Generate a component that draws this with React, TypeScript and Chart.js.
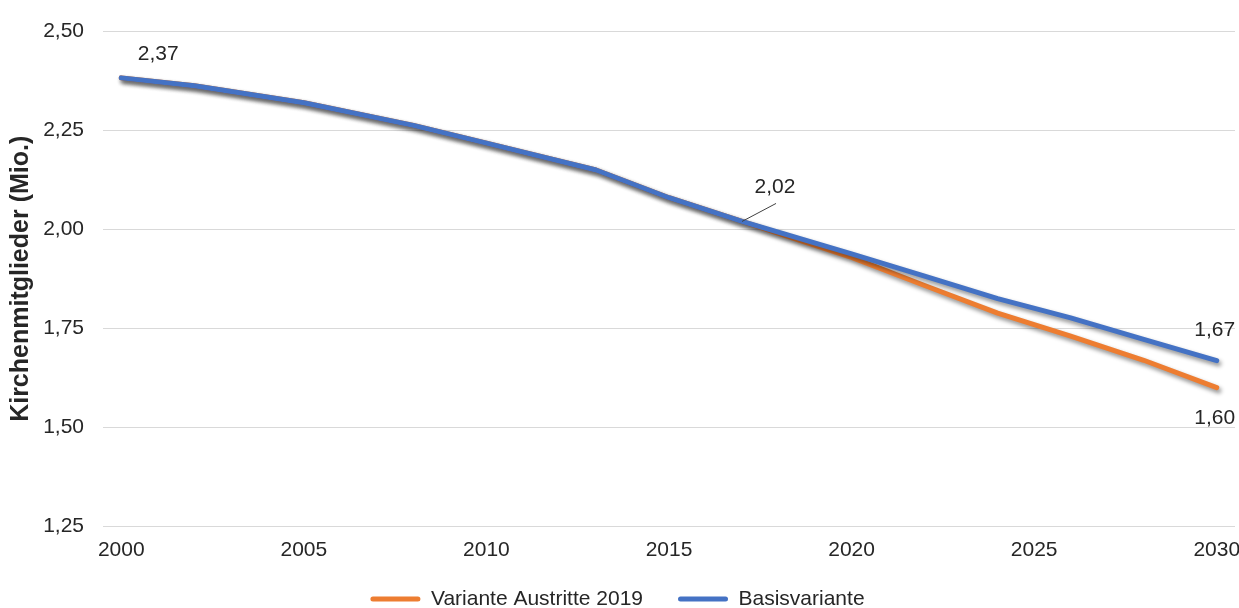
import React, { useEffect, useRef } from "react";
import { Chart, registerables } from "chart.js";

Chart.register(...registerables);

const categories = [
  "2000", "2001", "2002", "2003", "2004", "2005", "2006", "2007", "2008", "2009",
  "2010", "2011", "2012", "2013", "2014", "2015", "2016", "2017", "2018", "2019",
  "2020", "2021", "2022", "2023", "2024", "2025", "2026", "2027", "2028", "2029", "2030",
];

const basisYears = ["2000", "2002", "2005", "2008", "2010", "2013", "2015", "2017", "2020", "2022", "2024", "2026", "2028", "2030"];
const basisValues = [2.383, 2.363, 2.32, 2.263, 2.218, 2.15, 2.08, 2.02, 1.938, 1.882, 1.825, 1.776, 1.722, 1.668];

const austritteYears = ["2000", "2002", "2005", "2008", "2010", "2013", "2015", "2017", "2020", "2022", "2024", "2026", "2028", "2030"];
const austritteValues = [2.383, 2.363, 2.32, 2.263, 2.218, 2.15, 2.08, 2.02, 1.929, 1.858, 1.788, 1.73, 1.669, 1.6];

const seriesNames = ["Variante Austritte 2019", "Basisvariante"];
const seriesColors = ["#ED7D31", "#4472C4"];

const yTicks = [1.25, 1.5, 1.75, 2.0, 2.25, 2.5];
const yTitle = "Kirchenmitglieder (Mio.)";

// annotations: dataset index, category, text
const noteSeries = [1, 1, 1, 0];
const noteYears = ["2000", "2017", "2030", "2030"];
const noteTexts = ["2,37", "2,02", "1,67", "1,60"];

const FONT = "'Liberation Sans', Arial, sans-serif";
const TEXT = "#262626";

const fmt = (v: number) => v.toFixed(2).replace(".", ",");

export default function App() {
  const ref = useRef<HTMLCanvasElement | null>(null);

  useEffect(() => {
    if (!ref.current) return;
    Chart.defaults.font.family = FONT;

    const shadowPlugin = {
      id: "lineShadow",
      beforeDatasetDraw(chart: any) {
        const ctx = chart.ctx;
        ctx.save();
        ctx.shadowColor = "rgba(0,0,0,0.45)";
        ctx.shadowBlur = 4;
        ctx.shadowOffsetX = 2;
        ctx.shadowOffsetY = 3;
      },
      afterDatasetDraw(chart: any) {
        chart.ctx.restore();
      },
    };

    const legendFit = {
      id: "legendFit",
      beforeInit(chart: any) {
        const lg = chart.legend;
        if (lg) {
          const origFit = lg.fit;
          lg.fit = function () {
            origFit.call(this);
            this.height = 42;
          };
          const origDraw = lg.draw;
          lg.draw = function () {
            const t = this.top;
            this.top = t - 12.5;
            origDraw.call(this);
            this.top = t;
          };
        }
      },
    };

    const offsets = [
      [37, -24],
      [33, -34],
      [-2, -30],
      [-2, 31],
    ];

    const notesPlugin = {
      id: "notes",
      afterDatasetsDraw(chart: any) {
        const ctx = chart.ctx;
        ctx.save();
        ctx.font = `21px ${FONT}`;
        ctx.fillStyle = TEXT;
        ctx.textAlign = "center";
        ctx.textBaseline = "middle";
        noteSeries.forEach((si, i) => {
          const meta = chart.getDatasetMeta(si);
          const ds = chart.data.datasets[si];
          const idx = ds.data.findIndex((d: any) => d.x === noteYears[i]);
          const el = meta.data[idx];
          if (!el) return;
          const px = el.x;
          const py = el.y;
          const tx = px + offsets[i][0];
          const ty = py + offsets[i][1];
          if (noteYears[i] === "2017") {
            ctx.strokeStyle = "#404040";
            ctx.lineWidth = 1;
            ctx.beginPath();
            ctx.moveTo(px, py);
            ctx.lineTo(px + 34, py - 18);
            ctx.stroke();
          }
          ctx.fillText(noteTexts[i], tx, ty);
        });
        ctx.restore();
      },
    };

    const chart = new Chart(ref.current, {
      type: "line",
      data: {
        labels: categories,
        datasets: [
          {
            label: seriesNames[0],
            data: austritteYears.map((y, i) => ({ x: y, y: austritteValues[i] })),
            borderColor: seriesColors[0],
            backgroundColor: seriesColors[0],
            borderWidth: 5,
            borderCapStyle: "round",
            borderJoinStyle: "round",
            pointRadius: 0,
            tension: 0,
            order: 1,
          },
          {
            label: seriesNames[1],
            data: basisYears.map((y, i) => ({ x: y, y: basisValues[i] })),
            borderColor: seriesColors[1],
            backgroundColor: seriesColors[1],
            borderWidth: 5,
            borderCapStyle: "round",
            borderJoinStyle: "round",
            pointRadius: 0,
            tension: 0,
            order: 0,
          },
        ],
      },
      options: {
        animation: false,
        responsive: true,
        maintainAspectRatio: false,
        layout: { padding: { top: 25, right: 4, left: 0, bottom: 0 } },
        scales: {
          x: {
            type: "category",
            offset: true,
            grid: { display: false, drawTicks: false },
            border: { display: false },
            ticks: {
              autoSkip: false,
              maxRotation: 0,
              padding: 12,
              color: TEXT,
              font: { size: 21 },
              callback: (_v: any, i: number) => (Number(categories[i]) % 5 === 0 ? categories[i] : ""),
            },
            afterFit: (s: any) => {
              s.height = 40;
              s.paddingLeft = 0;
              s.paddingRight = 0;
            },
          },
          y: {
            min: yTicks[0],
            max: yTicks[yTicks.length - 1],
            afterBuildTicks: (s: any) => {
              s.ticks = yTicks.map((v) => ({ value: v }));
            },
            grid: { color: "#d9d9d9", lineWidth: 1, drawTicks: false },
            border: { display: false },
            ticks: {
              padding: 19,
              color: TEXT,
              font: { size: 21 },
              callback: (v: any) => fmt(Number(v)),
            },
            title: {
              display: true,
              text: yTitle,
              color: TEXT,
              font: { size: 25, weight: "bold" },
              padding: { top: 6, bottom: 0 },
            },
            afterFit: (s: any) => {
              s.width = 103;
            },
          },
        },
        plugins: {
          legend: {
            position: "bottom",
            labels: {
              boxWidth: 50,
              boxHeight: 5,
              padding: 35,
              color: TEXT,
              font: { size: 21 },
              useBorderRadius: true,
              borderRadius: 2.5,
              sort: (a: any, b: any) => a.datasetIndex - b.datasetIndex,
              generateLabels: (c: any) =>
                Chart.defaults.plugins.legend.labels
                  .generateLabels(c)
                  .map((l: any) => ({ ...l, lineWidth: 0 })),
            },
          },
          tooltip: { enabled: false },
        },
      },
      plugins: [legendFit, shadowPlugin, notesPlugin],
    } as any);

    return () => chart.destroy();
  }, []);

  return (
    <div style={{ position: "fixed", left: 0, top: 0, width: 1239, height: 608, background: "#fff" }}>
      <canvas ref={ref} />
    </div>
  );
}
